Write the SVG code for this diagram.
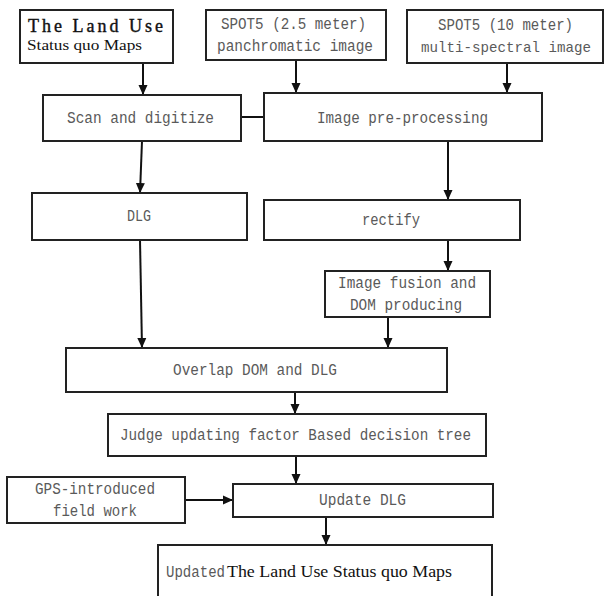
<svg xmlns="http://www.w3.org/2000/svg" width="606" height="596" viewBox="0 0 606 596">
<style>
.box{fill:#fff;stroke:#222;stroke-width:2}
.m{font-family:"Liberation Mono","DejaVu Sans Mono",monospace;font-size:16px;fill:#5a5a5a}
.t{font-family:"Liberation Serif","Times New Roman",serif;fill:#111}
.c{fill:none;stroke:#111;stroke-width:2}
</style>
<defs>
<marker id="ah" markerUnits="userSpaceOnUse" markerWidth="10" markerHeight="10" refX="10" refY="5" orient="auto">
<path d="M0,0.5 L10,5 L0,9.5 z" fill="#111"/>
</marker>
</defs>
<rect width="606" height="596" fill="#fff"/>
<g id="connectors">
<line class="c" x1="143" y1="63" x2="143" y2="95" marker-end="url(#ah)"/>
<line class="c" x1="296" y1="60" x2="296" y2="93" marker-end="url(#ah)"/>
<line class="c" x1="507" y1="63" x2="507" y2="93" marker-end="url(#ah)"/>
<line class="c" x1="241" y1="117" x2="264" y2="117"/>
<line class="c" x1="142" y1="141" x2="140" y2="193" marker-end="url(#ah)"/>
<line class="c" x1="448" y1="141" x2="448" y2="200" marker-end="url(#ah)"/>
<line class="c" x1="448" y1="240" x2="448" y2="271" marker-end="url(#ah)"/>
<line class="c" x1="140" y1="240" x2="142" y2="348" marker-end="url(#ah)"/>
<line class="c" x1="388" y1="317" x2="388" y2="348" marker-end="url(#ah)"/>
<line class="c" x1="295" y1="392" x2="295" y2="414" marker-end="url(#ah)"/>
<line class="c" x1="296" y1="456" x2="296" y2="484" marker-end="url(#ah)"/>
<line class="c" x1="185" y1="500" x2="233" y2="500" marker-end="url(#ah)"/>
<line class="c" x1="326" y1="517" x2="326" y2="545" marker-end="url(#ah)"/>
</g>
<g id="landuse">
<rect class="box" x="20" y="10" width="153" height="53"/>
<text class="t" x="28" y="32" font-size="18" stroke="#111" stroke-width="0.4" textLength="135" lengthAdjust="spacing">The Land Use</text>
<text class="t" x="27" y="50" font-size="15" textLength="115" lengthAdjust="spacingAndGlyphs">Status quo Maps</text>
</g>
<g id="spot25">
<rect class="box" x="206" y="10" width="180" height="50"/>
<text class="m" x="221" y="29" textLength="145" lengthAdjust="spacingAndGlyphs">SPOT5 (2.5 meter)</text>
<text class="m" x="217" y="51" textLength="156" lengthAdjust="spacingAndGlyphs">panchromatic image</text>
</g>
<g id="spot10">
<rect class="box" x="407" y="10" width="196" height="53"/>
<text class="m" x="438" y="30" textLength="135" lengthAdjust="spacingAndGlyphs">SPOT5 (10 meter)</text>
<text class="m" x="421" y="52" style="font-size:14.2px" textLength="170" lengthAdjust="spacingAndGlyphs">multi-spectral image</text>
</g>
<g id="scan">
<rect class="box" x="43" y="95" width="198" height="46"/>
<text class="m" x="67" y="123" textLength="147" lengthAdjust="spacingAndGlyphs">Scan and digitize</text>
</g>
<g id="preproc">
<rect class="box" x="264" y="93" width="278" height="48"/>
<text class="m" x="317" y="123" textLength="171" lengthAdjust="spacingAndGlyphs">Image pre-processing</text>
</g>
<g id="dlg">
<rect class="box" x="32" y="193" width="215" height="47"/>
<text class="m" x="127" y="221" textLength="24" lengthAdjust="spacingAndGlyphs">DLG</text>
</g>
<g id="rectify">
<rect class="box" x="264" y="200" width="256" height="40"/>
<text class="m" x="362" y="225" textLength="58" lengthAdjust="spacingAndGlyphs">rectify</text>
</g>
<g id="fusion">
<rect class="box" x="325" y="271" width="165" height="46"/>
<text class="m" x="338" y="288" textLength="138" lengthAdjust="spacingAndGlyphs">Image fusion and</text>
<text class="m" x="350" y="310" textLength="112" lengthAdjust="spacingAndGlyphs">DOM producing</text>
</g>
<g id="overlap">
<rect class="box" x="66" y="348" width="381" height="44"/>
<text class="m" x="173" y="375" textLength="164" lengthAdjust="spacingAndGlyphs">Overlap DOM and DLG</text>
</g>
<g id="judge">
<rect class="box" x="108" y="414" width="378" height="42"/>
<text class="m" x="120" y="440" textLength="351" lengthAdjust="spacingAndGlyphs">Judge updating factor Based decision tree</text>
</g>
<g id="gps">
<rect class="box" x="7" y="477" width="178" height="46"/>
<text class="m" x="35" y="494" textLength="120" lengthAdjust="spacingAndGlyphs">GPS-introduced</text>
<text class="m" x="53" y="516" textLength="84" lengthAdjust="spacingAndGlyphs">field work</text>
</g>
<g id="update">
<rect class="box" x="233" y="484" width="260" height="33"/>
<text class="m" x="319" y="505" textLength="87" lengthAdjust="spacingAndGlyphs">Update DLG</text>
</g>
<g id="updated">
<rect class="box" x="158" y="545" width="334" height="60"/>
<text class="m" x="166" y="577" textLength="59" lengthAdjust="spacingAndGlyphs">Updated</text>
<text class="t" x="227" y="577" font-size="16" textLength="225" lengthAdjust="spacingAndGlyphs">The Land Use Status quo Maps</text>
</g>
</svg>
